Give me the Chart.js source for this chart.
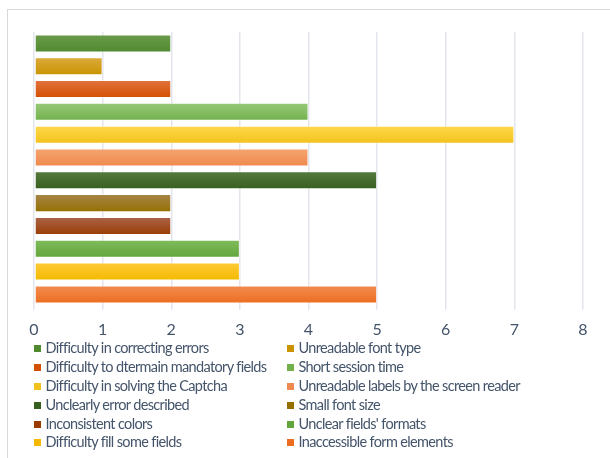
<!DOCTYPE html>
<html>
<head>
<meta charset="utf-8">
<script src="https://cdn.jsdelivr.net/npm/chart.js@4/dist/chart.umd.min.js"></script>
<style>
  body { margin: 0; background: #fff; font-family: Lato, sans-serif; }
  #frame { position: absolute; left: 7px; top: 9px; width: 640px; height: 460px; border: 1px solid #d9d9d9; }
  #wrap { position: absolute; left: 0; top: 0; width: 610px; height: 352px; }
  #legend { position: absolute; left: 34px; top: 339px; display: grid; grid-template-columns: 253px 300px; color: #44546a; font-size: 14.5px; letter-spacing: -0.65px; }
  .item { height: 18.9px; line-height: 18.9px; white-space: nowrap; display: flex; align-items: center; }
  .sw { width: 7px; height: 7px; margin-right: 4.5px; flex: none; }
</style>
</head>
<body>
<div id="frame"></div>
<div id="wrap"><canvas id="chart"></canvas></div>
<div id="legend"></div>
<script>
  const issues = [
    'Difficulty in correcting errors',
    'Unreadable font type',
    'Difficulty to dtermain mandatory fields',
    'Short session time',
    'Difficulty in solving the Captcha',
    'Unreadable labels by the screen reader',
    'Unclearly error described',
    'Small font size',
    'Inconsistent colors',
    "Unclear fields' formats",
    'Difficulty fill some fields',
    'Inaccessible form elements',
  ];
  const counts = [2, 1, 2, 4, 7, 4, 5, 2, 2, 3, 3, 5];
  const xTicks = [0, 1, 2, 3, 4, 5, 6, 7, 8];

  // bottom / top colour of each bar's gradient
  const darkColors = ['#4f8a2f', '#c99400', '#d35000', '#72b04c', '#f2c21c', '#ef8a4e', '#375f1e', '#957000', '#9a3c02', '#62a53c', '#f3b900', '#ec6d20'];
  const lightColors = ['#6b9b4b', '#dcaa3c', '#e2733f', '#97ca79', '#ffd84c', '#f6a470', '#557a3f', '#a6854a', '#ab634a', '#80bc5d', '#ffca38', '#f38d50'];

  const legend = document.getElementById('legend');
  issues.forEach((name, i) => {
    const item = document.createElement('div');
    item.className = 'item';
    const sw = document.createElement('span');
    sw.className = 'sw';
    sw.style.background = darkColors[i];
    item.appendChild(sw);
    item.appendChild(document.createTextNode(name));
    legend.appendChild(item);
  });

  const barPct = 0.79;

  function barGradient(c) {
    const chart = c.chart;
    const y = chart.scales.y;
    const i = c.dataIndex;
    if (!chart.chartArea || !y || i === undefined) return darkColors[i] || '#999';
    const center = y.getPixelForValue(i);
    const h = (y.height / issues.length) * barPct;
    const g = chart.ctx.createLinearGradient(0, center - h / 2, 0, center + h / 2);
    g.addColorStop(0, lightColors[i]);
    g.addColorStop(1, darkColors[i]);
    return g;
  }

  new Chart(document.getElementById('chart'), {
    type: 'bar',
    data: {
      labels: issues,
      datasets: [{
        data: counts,
        backgroundColor: barGradient,
        borderColor: 'rgba(255,255,255,0.45)',
        borderWidth: 1,
        borderSkipped: false,
        categoryPercentage: 1,
        barPercentage: barPct,
      }],
    },
    options: {
      indexAxis: 'y',
      responsive: true,
      maintainAspectRatio: false,
      animation: false,
      layout: { padding: { left: 34, right: 27, top: 32, bottom: 3 } },
      plugins: { legend: { display: false }, tooltip: { enabled: false } },
      scales: {
        y: { display: false },
        x: {
          min: 0,
          max: 8,
          afterBuildTicks: axis => { axis.ticks = xTicks.map(v => ({ value: v })); },
          grid: { color: '#e2e5eb', lineWidth: 1.5, tickLength: 4 },
          border: { display: false },
          ticks: { color: '#44546a', font: { family: 'Lato', size: 16 }, padding: 10 },
        },
      },
    },
  });
</script>
</body>
</html>
